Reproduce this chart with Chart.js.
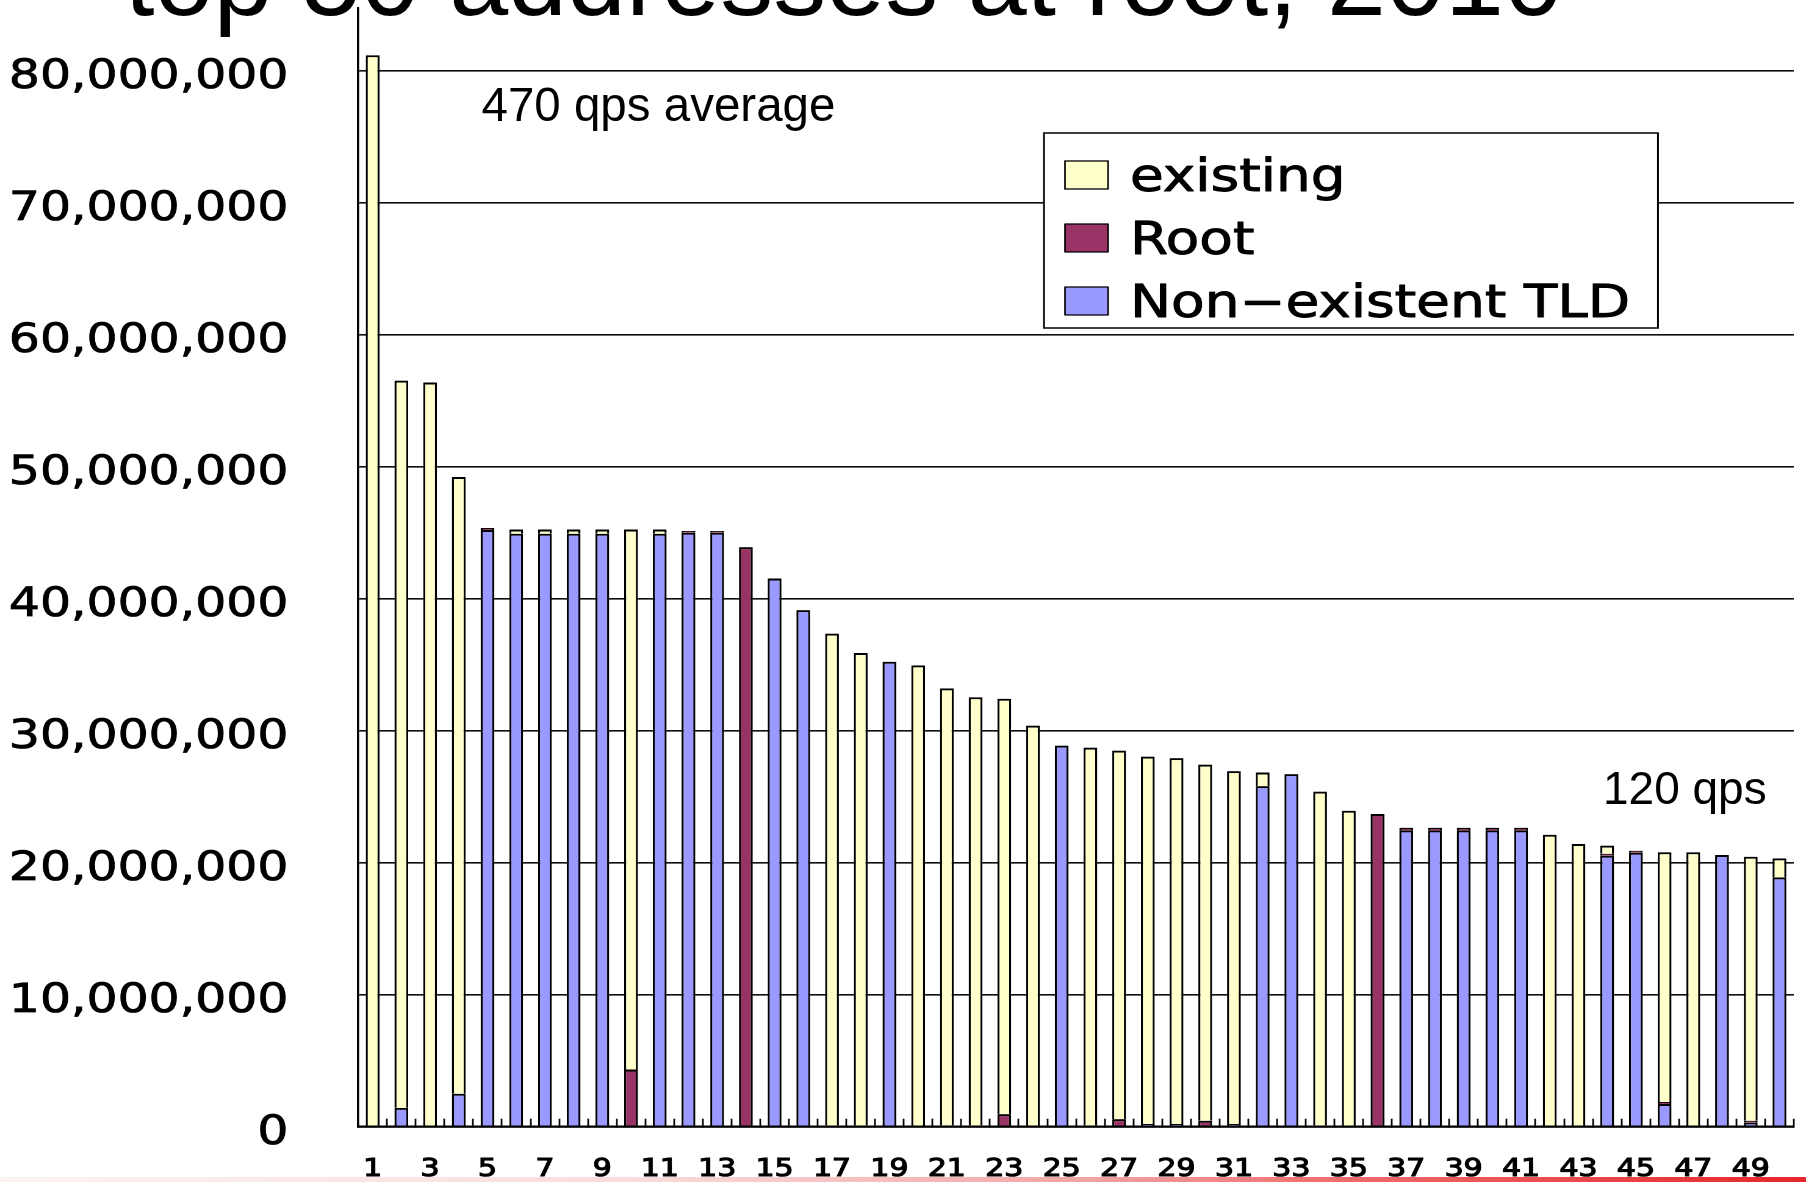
<!DOCTYPE html>
<html>
<head>
<meta charset="utf-8">
<script src="https://cdn.jsdelivr.net/npm/chart.js@4/dist/chart.umd.min.js"></script>
<style>
  html, body { margin: 0; padding: 0; background: #fff; width: 1806px; height: 1182px; overflow: hidden; }
  #stage { position: relative; width: 1806px; height: 1182px; overflow: hidden; background: #fff; }
  #wrap { position: absolute; left: 0; top: 0; width: 1480px; height: 1182px;
          transform: scaleX(1.2202703); transform-origin: 0 0; }
  .txt { position: absolute; white-space: nowrap; font-family: "Liberation Sans", Arial, sans-serif;
         color: #000; line-height: 1; }
  #title { left: 125px; top: -74.7px; font-size: 106px; }
  #a1 { left: 481.5px; top: 80.8px; font-size: 47.5px; }
  #a2 { left: 1603px; top: 765.1px; font-size: 46px; }
  #strip { position: absolute; left: 0; top: 1177px; width: 1806px; height: 5px;
           background: linear-gradient(90deg, #fdf3f3 0%, #f9dcdc 35%, #f4a4a4 60%, #ef6c6c 74%, #e6262c 100%); }
</style>
</head>
<body>
<div id="stage">
  <div id="wrap"><canvas id="c" width="1480" height="1182"></canvas></div>
  <div class="txt" id="title">top 50 addresses at root, 2010</div>
  <div class="txt" id="a1">470 qps average</div>
  <div class="txt" id="a2">120 qps</div>
  <div id="strip"></div>
</div>
<script>
// ---- data (queries per day) ----
const categories = ['1','2','3','4','5','6','7','8','9','10','11','12','13','14','15','16','17','18','19','20',
  '21','22','23','24','25','26','27','28','29','30','31','32','33','34','35','36','37','38','39','40',
  '41','42','43','44','45','46','47','48','49','50'];

const nonExistentTLD = [0, 1430000, 0, 2500000, 45200000, 44920000, 44920000, 44920000, 44920000, 0,
  44920000, 45000000, 45000000, 0, 41530000, 39130000, 100000, 100000, 35220000, 0,
  100000, 100000, 0, 0, 28870000, 100000, 0, 200000, 200000, 0,
  200000, 25800000, 26710000, 100000, 0, 0, 22450000, 22450000, 22450000, 22450000,
  22450000, 0, 0, 20530000, 20750000, 1720000, 0, 20580000, 300000, 18890000];

const rootQ = [0, 0, 0, 0, 160000, 0, 0, 0, 0, 4330000,
  0, 130000, 130000, 43910000, 0, 0, 0, 0, 0, 0,
  0, 0, 950000, 0, 0, 0, 570000, 0, 0, 450000,
  0, 0, 0, 0, 0, 23690000, 200000, 200000, 200000, 200000,
  200000, 0, 0, 150000, 160000, 150000, 0, 0, 150000, 0];

const existing = [81170000, 55090000, 56380000, 46720000, 0, 320000, 320000, 320000, 320000, 40910000,
  320000, 0, 0, 0, 0, 0, 37250000, 35790000, 0, 34950000,
  33110000, 32430000, 31470000, 30380000, 0, 28620000, 27920000, 27840000, 27720000, 26980000,
  26740000, 1030000, 0, 25280000, 23940000, 0, 0, 0, 0, 0,
  0, 22120000, 21420000, 610000, 0, 18920000, 20790000, 0, 20000000, 1440000];

const seriesNames = ['Non\u2212existent TLD', 'Root', 'existing'];
const yTickValues = [0, 10000000, 20000000, 30000000, 40000000, 50000000, 60000000, 70000000, 80000000];

// ---- legend drawn inside the plot, like the original ----
const S = 1806 / 1480;
const boxLegend = {
  id: 'boxLegend',
  afterDraw(chart) {
    const ctx = chart.ctx;
    const x = 1044 / S, y = 133, w = (1658 - 1044) / S, h = 195;
    ctx.save();
    ctx.fillStyle = '#ffffff';
    ctx.fillRect(x, y, w, h);
    ctx.lineWidth = 1.5;
    ctx.strokeStyle = '#000';
    ctx.strokeRect(x, y, w, h);
    const items = chart.data.datasets.slice().reverse();
    items.forEach((ds, i) => {
      const cy = 175 + i * 63;
      const sx = 1065 / S, sw = 43 / S;
      ctx.fillStyle = ds.backgroundColor;
      ctx.fillRect(sx, cy - 14, sw, 28);
      ctx.lineWidth = 1.3;
      ctx.strokeStyle = '#000';
      ctx.strokeRect(sx, cy - 14, sw, 28);
      ctx.font = '45px "DejaVu Sans"';
      ctx.textAlign = 'left';
      ctx.textBaseline = 'alphabetic';
      ctx.lineWidth = 0.9;
      ctx.lineJoin = 'round';
      ctx.strokeText(ds.label, 1130 / S, cy + 16);
      ctx.fillStyle = '#000';
      ctx.fillText(ds.label, 1130 / S, cy + 16);
    });
    ctx.restore();
  }
};

const barStyle = {
  borderColor: '#000',
  borderWidth: { top: 2, left: 1.7, right: 1.7, bottom: 0 },
  barPercentage: 0.48,
  categoryPercentage: 1.0
};

new Chart(document.getElementById('c'), {
  type: 'bar',
  data: {
    labels: categories,
    datasets: [
      Object.assign({ label: seriesNames[0], data: nonExistentTLD, backgroundColor: '#9999FF' }, barStyle),
      Object.assign({ label: seriesNames[1], data: rootQ, backgroundColor: '#993366' }, barStyle),
      Object.assign({ label: seriesNames[2], data: existing, backgroundColor: '#FFFFCC' }, barStyle)
    ]
  },
  options: {
    responsive: false,
    animation: false,
    devicePixelRatio: 2,
    layout: { padding: { left: 0, top: 8, right: 10, bottom: 0 } },
    plugins: {
      legend: { display: false },
      title: { display: false },
      tooltip: { enabled: false }
    },
    scales: {
      x: {
        stacked: true,
        offset: true,
        grid: { display: true, drawOnChartArea: false, drawTicks: true, tickLength: -8,
                tickWidth: 1.4, tickColor: '#000', offset: true },
        border: { display: true, color: '#000', width: 2.2, z: 1 },
        ticks: {
          autoSkip: false, maxRotation: 0, minRotation: 0, padding: 36, color: '#000',
          textStrokeColor: '#000', textStrokeWidth: 1.1,
          font: { family: 'DejaVu Sans', size: 24.5 },
          callback: function (v, i) { return i % 2 === 0 ? this.getLabelForValue(v) : ''; }
        },
        afterFit: function (s) {
          s.height = 55.3;
          s.paddingLeft = 0; s.paddingRight = 0; s.paddingTop = 0; s.paddingBottom = 0;
        }
      },
      y: {
        stacked: true,
        min: 0,
        max: 84750000,
        grid: { color: '#111', lineWidth: 1.6, drawTicks: false },
        border: { display: true, color: '#000', width: 1.8, z: 1 },
        ticks: {
          stepSize: 10000000, padding: 57.3, labelOffset: 7, color: '#000',
          textStrokeColor: '#000', textStrokeWidth: 0.8,
          font: { family: 'DejaVu Sans', size: 40 },
          callback: function (v) { return Number(v).toLocaleString('en-US'); }
        },
        afterBuildTicks: function (s) { s.ticks = yTickValues.map(v => ({ value: v })); },
        afterFit: function (s) {
          s.width = 293.6;
          s.paddingLeft = 0; s.paddingRight = 0; s.paddingTop = 0; s.paddingBottom = 0;
        }
      }
    }
  },
  plugins: [boxLegend]
});
</script>
</body>
</html>
